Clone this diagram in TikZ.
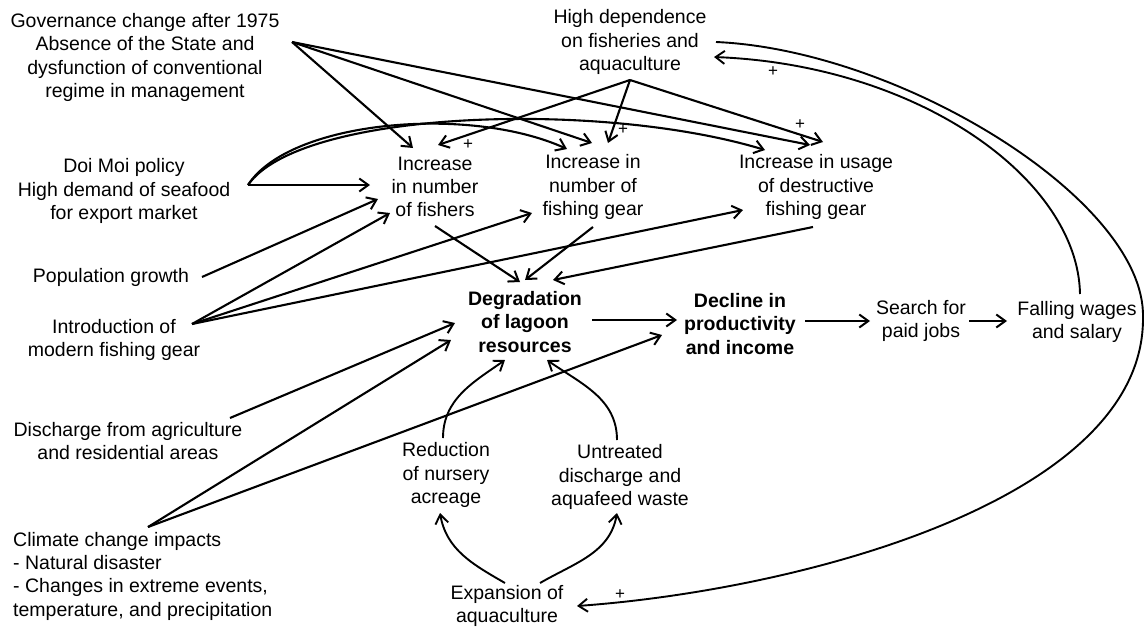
\documentclass[tikz,border=0pt]{standalone}
\usepackage{fontspec}
\setmainfont{Liberation Sans}
\usetikzlibrary{arrows.meta}
\begin{document}
\begin{tikzpicture}[x=1pt,y=1pt,
  lbl/.style={align=center, font=\fontsize{19.5}{23.3}\selectfont, inner sep=0pt},
  blbl/.style={align=center, font=\fontsize{19.5}{23.3}\selectfont\bfseries, inner sep=0pt},
  arr/.style={line width=2.1pt, -{Straight Barb[length=9pt,width=13pt,line width=2pt]}},
  carr/.style={line width=1.9pt, -{Straight Barb[length=9pt,width=13pt,line width=1.9pt]}},
  pl/.style={font=\fontsize{17}{17}\selectfont, inner sep=0pt}]
\useasboundingbox (0,0) rectangle (1145,-627);
% nodes
\node[lbl] (gov) at (145,-57.5) {Governance change after 1975\\Absence of the State and\\dysfunction of conventional\\regime in management};
\node[lbl] (hd) at (630,-42) {High dependence\\on fisheries and\\aquaculture};
\node[lbl] (doi) at (124,-191) {Doi Moi policy\\High demand of seafood\\for export market};
\node[lbl] (fish) at (435,-187) {Increase\\in number\\of fishers};
\node[lbl] (gear) at (593,-187) {Increase in\\number of\\fishing gear};
\node[lbl] (dest) at (816,-187) {Increase in usage\\of destructive\\fishing gear};
\node[lbl] (pop) at (111,-277) {Population growth};
\node[lbl] (intro) at (114,-340) {Introduction of\\modern fishing gear};
\node[blbl] (degr) at (525,-322) {Degradation\\of lagoon\\resources};
\node[blbl] (decl) at (740,-324) {Decline in\\productivity\\and income};
\node[lbl] (search) at (921,-321) {Search for\\paid jobs};
\node[lbl] (fall) at (1077,-322) {Falling wages\\and salary};
\node[lbl] (disch) at (128,-441) {Discharge from agriculture\\and residential areas};
\node[lbl] (red) at (446,-475) {Reduction\\of nursery\\acreage};
\node[lbl] (untr) at (620,-477) {Untreated\\discharge and\\aquafeed waste};
\node[lbl, align=left, anchor=west] (clim) at (13,-576) {Climate change impacts\\- Natural disaster\\- Changes in extreme events,\\temperature, and precipitation};
\node[lbl] (exp) at (507,-606) {Expansion of\\aquaculture};
% connector end points
\coordinate (govo) at (292,-42);
\coordinate (hdo) at (630,-80);
\coordinate (doio) at (248,-185);
\coordinate (popo) at (202,-277);
\coordinate (introo) at (192,-324);
\coordinate (discho) at (230,-418);
\coordinate (climo) at (148,-527);
\coordinate (fisho) at (435,-226);
\coordinate (gearo) at (593,-227);
\coordinate (desto) at (813,-227);
\coordinate (fish-gov) at (413,-148);
\coordinate (fish-hd) at (438,-145);
\coordinate (fish-doi) at (370,-185);
\coordinate (fish-pop) at (378,-199);
\coordinate (fish-intro) at (390,-213);
\coordinate (gear-doi) at (567,-149);
\coordinate (gear-gov) at (592,-143);
\coordinate (gear-hd) at (608,-143);
\coordinate (gear-intro) at (532,-213);
\coordinate (dest-doi) at (765,-150);
\coordinate (dest-gov) at (810,-145);
\coordinate (dest-hd) at (823,-142);
\coordinate (dest-intro) at (743,-210);
\coordinate (degr-fish) at (520,-282);
\coordinate (degr-gear) at (525,-280);
\coordinate (degr-dest) at (553,-280);
\coordinate (degr-disch) at (455,-323);
\coordinate (degr-clim) at (451,-340);
\coordinate (degro) at (592,-320);
\coordinate (decl-degr) at (677,-320);
\coordinate (decl-clim) at (662,-335);
\coordinate (declo) at (805,-321);
\coordinate (search-decl) at (870,-321);
\coordinate (searcho) at (969,-321);
\coordinate (fall-search) at (1007,-321);
\coordinate (fallo) at (1080,-294);
\coordinate (hd-fall) at (714,-57);
\coordinate (hdr) at (716,-42);
\coordinate (farright) at (1143,-317);
\coordinate (exp-hd) at (577,-606);
\coordinate (redo) at (443,-438);
\coordinate (degr-red) at (505,-360);
\coordinate (untro) at (617,-440);
\coordinate (degr-untr) at (547,-360);
\coordinate (expl) at (505,-583);
\coordinate (expr) at (540,-583);
\coordinate (red-exp) at (440,-513);
\coordinate (untr-exp) at (617,-513);
% governance
\draw[arr] (govo) -- (fish-gov);
\draw[arr] (govo) -- (gear-gov);
\draw[arr] (govo) -- (dest-gov);
% high dependence
\draw[arr] (hdo) -- (fish-hd);
\draw[arr] (hdo) -- (gear-hd);
\draw[arr] (hdo) -- (dest-hd);
% doi moi
\draw[arr] (doio) -- (fish-doi);
\draw[arr] (doio) .. controls (290,-120) and (470,-105) .. (gear-doi);
\draw[arr] (doio) .. controls (300,-110) and (600,-100) .. (dest-doi);
% population, introduction
\draw[arr] (popo) -- (fish-pop);
\draw[arr] (introo) -- (fish-intro);
\draw[arr] (introo) -- (gear-intro);
\draw[arr] (introo) -- (dest-intro);
% to degradation
\draw[arr] (fisho) -- (degr-fish);
\draw[arr] (gearo) -- (degr-gear);
\draw[arr] (desto) -- (degr-dest);
\draw[arr] (discho) -- (degr-disch);
\draw[arr] (climo) -- (degr-clim);
\draw[arr] (climo) -- (decl-clim);
% chain
\draw[arr] (degro) -- (decl-degr);
\draw[arr] (declo) -- (search-decl);
\draw[arr] (searcho) -- (fall-search);
% feedback curves
\draw[carr] (fallo) .. controls (1078,-180) and (920,-65) .. (hd-fall);
\draw[carr] (hdr) .. controls (900,-50) and (1145,-200) .. (farright)
  .. controls (1145,-500) and (800,-590) .. (exp-hd);
% aquaculture loop
\draw[carr] (redo) to[out=90,in=215] (degr-red);
\draw[carr] (untro) to[out=90,in=-35] (degr-untr);
\draw[carr] (expl) to[out=150,in=-80] (red-exp);
\draw[carr] (expr) to[out=30,in=-100] (untr-exp);
% plus signs
\node[pl] (p1) at (468,-145) {+};
\node[pl] (p2) at (623,-130) {+};
\node[pl] (p3) at (800,-125) {+};
\node[pl] (p4) at (773,-72) {+};
\node[pl] (p5) at (620,-595) {+};
\end{tikzpicture}
\end{document}
